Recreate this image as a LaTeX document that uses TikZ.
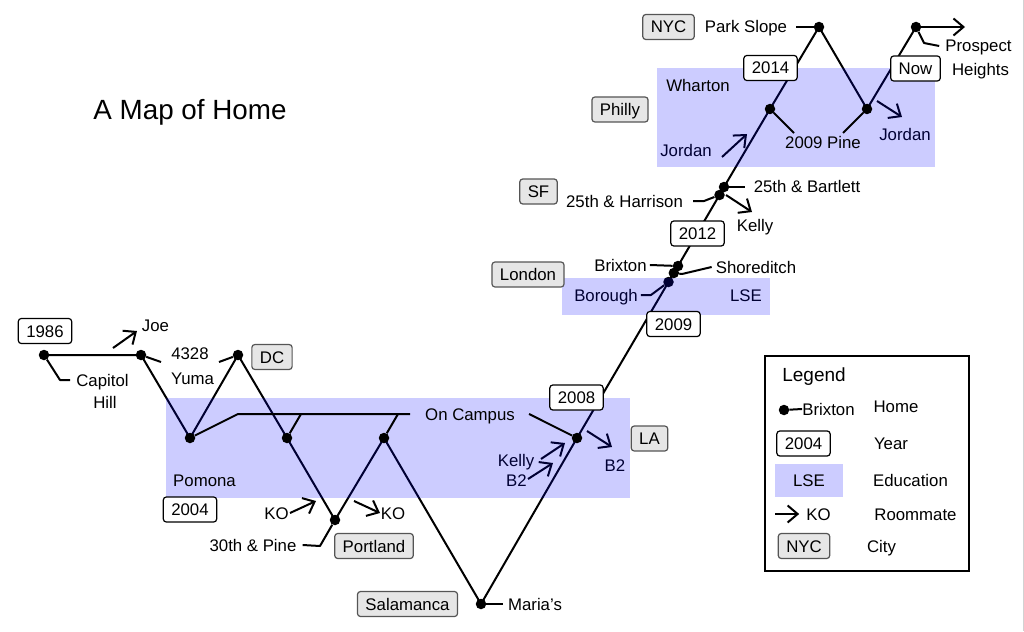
\documentclass[tikz,border=0pt]{standalone}
\usepackage{fontspec}
\setmainfont{Liberation Sans}
\usetikzlibrary{arrows.meta}
\definecolor{cityfill}{HTML}{E6E6E6}
\definecolor{cityline}{HTML}{555555}
\begin{document}
\begin{tikzpicture}[x=1pt,y=-1pt,
  txt/.style={font=\fontsize{16.8}{20}\selectfont, inner sep=0pt, text height=12pt, text depth=0pt},
  ln/.style={line width=2pt, line join=round},
  rm/.style={line width=2pt, -{Straight Barb[length=10pt,width=17pt]}},
  hm/.style={circle, fill=black, minimum size=10.5pt, inner sep=0pt},
  yr/.style={txt, draw, fill=white, rounded corners=3pt, line width=1.2pt, minimum height=25pt, inner xsep=8pt},
  city/.style={yr, fill=cityfill, draw=cityline},
  edu/.style={fill=blue, fill opacity=0.2}
]
\useasboundingbox (0,0) rectangle (1024,631);
\draw[gray!35, line width=1pt] (1023,0) -- (1023,631);

% home coordinates
\coordinate (p0) at (44,355);
\coordinate (p1) at (141,355);
\coordinate (p2) at (190,438);
\coordinate (p3) at (238,355);
\coordinate (p4) at (287,438);
\coordinate (p5) at (335,520);
\coordinate (p6) at (384,438);
\coordinate (p7) at (481,604);
\coordinate (p8) at (577,438);
\coordinate (p9) at (668.5,282);
\coordinate (p10) at (673.8,273);
\coordinate (p11) at (678,266);
\coordinate (p12) at (719.5,195);
\coordinate (p13) at (724,187);
\coordinate (p14) at (770,109);
\coordinate (p15) at (819,27);
\coordinate (p16) at (867,109);
\coordinate (p17) at (916,27);
\coordinate (pend) at (965,27);

% main path
\draw[ln] (p0) -- (p1) -- (p2) -- (p3) -- (p4) -- (p5) -- (p6) -- (p7) -- (p8)
  -- (p9) -- (p10) -- (p11) -- (p12) -- (p13) -- (p14) -- (p15) -- (p16) -- (p17);
\draw[rm] (p17) -- (pend);

% items under the education shading
\node[hm] (d9) at (p9) {};
\node[txt] (borough) at (606,295) {Borough};
\draw[ln] (borough.east) ++(3,0) coordinate (bor1) -- ++(10,0) -- (d9);
\node[txt] (lse) at (746,295) {LSE};
\node[txt] (kellyLA) at (516,460) {Kelly};
\node[txt] (b2L) at (516.5,480) {B2};
\coordinate (kA) at (541,459); \coordinate (kB) at (565,443);
\draw[rm] (kA) -- (kB);
\coordinate (bA) at (528,479); \coordinate (bB) at (553,463);
\draw[rm] (bA) -- (bB);
\node[txt] (b2R) at (615,465) {B2};
\coordinate (cA) at (587,431); \coordinate (cB) at (612,447);
\draw[rm] (cA) -- (cB);
\node[txt] (jordanL) at (686,151) {Jordan};
\coordinate (jA) at (722,157); \coordinate (jB) at (747,134);
\draw[rm] (jA) -- (jB);
\node[txt] (jordanR) at (905,135) {Jordan};
\coordinate (jC) at (877,101); \coordinate (jD) at (902,117);
\draw[rm] (jC) -- (jD);

% education shading
\fill[edu] (166,398) rectangle (630,498);
\fill[edu] (562,278) rectangle (770,315);
\fill[edu] (657,68) rectangle (935,167);

% title
\node[font=\fontsize{27.8}{32}\selectfont, inner sep=0pt, text height=20pt, text depth=0pt] (title) at (190,110) {A Map of Home};

% home dots
\node[hm] (d0) at (p0) {};
\node[hm] (d1) at (p1) {};
\node[hm] (d2) at (p2) {};
\node[hm] (d3) at (p3) {};
\node[hm] (d4) at (p4) {};
\node[hm] (d5) at (p5) {};
\node[hm] (d6) at (p6) {};
\node[hm] (d7) at (p7) {};
\node[hm] (d8) at (p8) {};
\node[hm] (d10) at (p10) {};
\node[hm] (d11) at (p11) {};
\node[hm] (d12) at (p12) {};
\node[hm] (d13) at (p13) {};
\node[hm] (d14) at (p14) {};
\node[hm] (d15) at (p15) {};
\node[hm] (d16) at (p16) {};
\node[hm] (d17) at (p17) {};

% DC area
\node[yr] (y1986) at (45,331) {1986};
\node[txt] (capitol) at (102.5,380) {Capitol};
\node[txt] (hill) at (105,402) {Hill};
\draw[ln] (d0) -- (60,380) -- ([xshift=-6pt]capitol.west);
\node[txt] (joe) at (155.5,325) {Joe};
\coordinate (joeA) at (113,348); \coordinate (joeB) at (137,331);
\draw[rm] (joeA) -- (joeB);
\node[txt] (n4328) at (190,353) {4328};
\node[txt] (yuma) at (192.5,378) {Yuma};
\coordinate (yumaL) at (161,362); \coordinate (yumaR) at (219,362);
\draw[ln] (d1) -- (yumaL);
\draw[ln] (yumaR) -- (d3);
\node[city] (dc) at (272,357) {DC};

% Pomona / Portland / Salamanca
\node[txt] (oncampus) at (470,414) {On Campus};
\coordinate (oc1) at (238,414); \coordinate (oc2) at (410,414);
\draw[ln] (d2) -- (oc1) -- (oc2);
\draw[ln] (d4) -- (301,414);
\draw[ln] (d6) -- (398,414);
\draw[ln] ([xshift=14pt]oncampus.east) -- (d8);
\node[txt] (pomona) at (204.5,480) {Pomona};
\node[yr] (y2004) at (190,509.5) {2004};
\node[txt] (koL) at (276.5,513) {KO};
\coordinate (koA) at (290,513); \coordinate (koB) at (316,501);
\draw[rm] (koA) -- (koB);
\coordinate (koC) at (354,501); \coordinate (koD) at (380,513);
\draw[rm] (koC) -- (koD);
\node[txt] (koR) at (393,513) {KO};
\node[txt] (pine30) at (253,545) {30th \& Pine};
\draw[ln] ([xshift=6pt]pine30.east) -- (320,546) -- (d5);
\node[city] (portland) at (374,546) {Portland};
\node[city] (salamanca) at (407.5,604) {Salamanca};
\node[txt] (marias) at (535,604) {Maria's};
\draw[ln] (d7) -- ([xshift=-5pt]marias.west);
\node[city] (la) at (649.5,438.5) {LA};
\node[yr] (y2008) at (576.5,397.5) {2008};

% London / SF
\node[city] (london) at (528,274.5) {London};
\node[txt] (brixton) at (620.5,265) {Brixton};
\draw[ln] ([xshift=3pt]brixton.east) -- (d11);
\node[txt] (shoreditch) at (756,267) {Shoreditch};
\draw[ln] (d10) -- (682,274) -- ([xshift=-4pt]shoreditch.west);
\node[yr] (y2009) at (673.5,324) {2009};
\node[yr] (y2012) at (697.5,233.5) {2012};
\node[city] (sf) at (538.5,191.5) {SF};
\node[txt] (harrison) at (624.5,201) {25th \& Harrison};
\draw[ln] ([xshift=10pt]harrison.east) -- ++(11,0) -- (d12);
\node[txt] (bartlett) at (807,187) {25th \& Bartlett};
\draw[ln] (d13) -- ([xshift=-9pt]bartlett.west);
\node[txt] (kellySF) at (755,225) {Kelly};
\coordinate (ksA) at (726,195); \coordinate (ksB) at (752,212);
\draw[rm] (ksA) -- (ksB);

% Philly / NYC
\node[city] (nyc) at (668.5,27) {NYC};
\node[txt] (parkslope) at (746,27) {Park Slope};
\draw[ln] ([xshift=9pt]parkslope.east) -- (d15);
\node[yr] (y2014) at (770.5,68) {2014};
\node[txt] (wharton) at (698,86) {Wharton};
\node[city] (philly) at (620,109.5) {Philly};
\node[txt] (pine2009) at (823,143) {2009 Pine};
\draw[ln] (d14) -- (794,133);
\draw[ln] (843,133) -- (d16);
\node[yr] (now) at (915.5,68.5) {Now};
\node[txt] (prospect) at (978.5,46) {Prospect};
\node[txt] (heights) at (980.5,70) {Heights};
\draw[ln] (d17) -- (924,43) -- ([xshift=-6pt]prospect.west);

% legend
\draw[line width=2pt] (765,356) rectangle (969,571);
\node[font=\fontsize{19}{22}\selectfont, inner sep=0pt, text height=14pt, text depth=0pt] (legend) at (814,374) {Legend};
\node[hm] (lgdot) at (784,410) {};
\node[txt] (lgbrixton) at (828.5,409) {Brixton};
\draw[ln] (lgdot) -- (lgbrixton.west);
\node[txt] (lghome) at (896,406) {Home};
\node[yr] (lg2004) at (803.5,443.5) {2004};
\node[txt] (lgyear) at (891,443) {Year};
\fill[blue!20] (775,464) rectangle (843,497);
\node[txt] (lglse) at (809,480) {LSE};
\node[txt] (lgedu) at (910.5,480) {Education};
\node[txt] (lgko) at (818.5,514) {KO};
\coordinate (lgA) at (775,514);
\draw[rm] (lgA) -- ([xshift=-7pt]lgko.west);
\node[txt] (lgroom) at (915.5,514) {Roommate};
\node[city] (lgnyc) at (804,546) {NYC};
\node[txt] (lgcity) at (881.5,546) {City};
\end{tikzpicture}
\end{document}
